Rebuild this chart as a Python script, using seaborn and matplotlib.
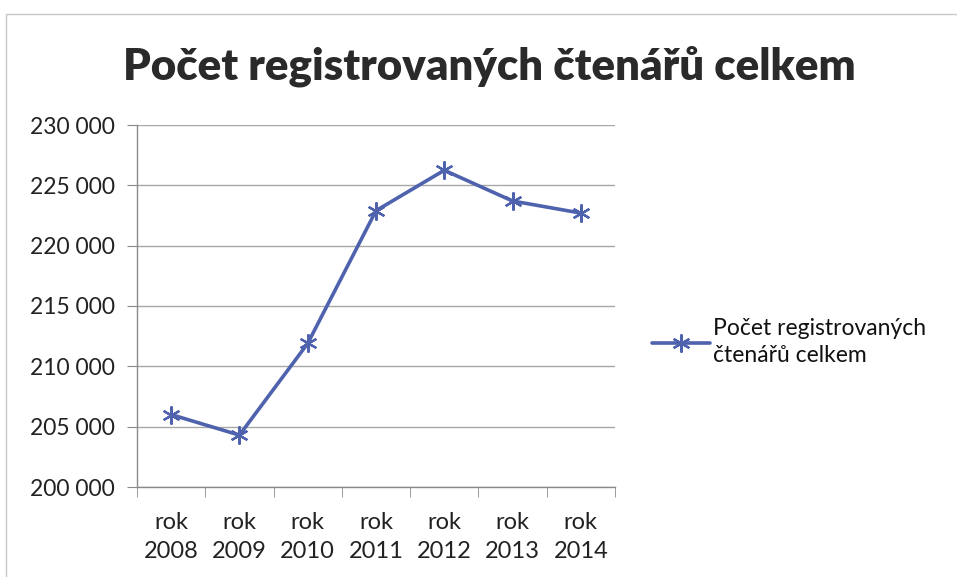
import pandas as pd
import matplotlib.pyplot as plt
import seaborn as sns
from matplotlib.ticker import FuncFormatter, FixedLocator
from matplotlib.patches import Rectangle

# Data
roky = ["rok\n2008", "rok\n2009", "rok\n2010", "rok\n2011", "rok\n2012", "rok\n2013", "rok\n2014"]
ctenari = [206000, 204300, 211900, 222900, 226250, 223700, 222700]
nazev = "Počet registrovaných čtenářů celkem"

df = pd.DataFrame({"rok": roky, "ctenari": ctenari})

sns.set_style("white")
plt.rcParams['font.family'] = ['Lato', 'DejaVu Sans']

fig = plt.figure(figsize=(9.57, 5.77), dpi=100)
ax = fig.add_axes([137 / 957, 1 - 487 / 577, (615 - 137) / 957, (487 - 125) / 577])

sns.lineplot(data=df, x="rok", y="ctenari", ax=ax, color="#4f62ad", linewidth=2.6,
             marker=(6, 2, 0), markersize=13, markeredgewidth=1.6,
             markeredgecolor="#4f62ad", sort=False, label=nazev.replace("ých ", "ých\n"))

ax.set_xlim(-0.5, 6.5)
ax.set_ylim(200000, 230000)
ax.set_yticks(range(200000, 230001, 5000))
ax.yaxis.set_major_formatter(FuncFormatter(lambda v, p: f"{v:,.0f}".replace(",", " ")))
ax.yaxis.grid(True, color="#a8a8a8", linewidth=1)
ax.set_axisbelow(True)

# ticks between categories like Excel
ax.set_xticks(range(len(roky)))
ax.set_xticklabels(roky, linespacing=1.45)
ax.xaxis.set_minor_locator(FixedLocator([i - 0.5 for i in range(len(roky) + 1)]))
ax.tick_params(axis="x", which="major", length=0, pad=18, labelsize=17, colors="#222222")
ax.tick_params(axis="x", which="minor", length=7, color="#8a8a8a", bottom=True)
ax.tick_params(axis="y", length=7, color="#8a8a8a", left=True, pad=9, labelsize=16.5, colors="#222222")

for s in ["top", "right"]:
    ax.spines[s].set_visible(False)
for s in ["left", "bottom"]:
    ax.spines[s].set_color("#8a8a8a")
    ax.spines[s].set_linewidth(1)

ax.set_xlabel("")
ax.set_ylabel("")

leg = ax.legend(loc="center left", bbox_to_anchor=(1.035, 0.40), frameon=False,
                fontsize=16.5, handlelength=2.5, handletextpad=0.15, labelspacing=0.2)
for t in leg.get_texts():
    t.set_color("#111111")
    t.set_linespacing(1.35)

fig.text(0.511, 1 - 66 / 577, nazev, ha="center", va="center", fontsize=31.5,
         fontweight="heavy", color="#2a2a2a")

# outer chart frame
fig.patches.append(Rectangle((6 / 957, -0.1), 1.2, 1.1 - 14 / 577, transform=fig.transFigure,
                             fill=False, edgecolor="#c8c8c8", linewidth=1))

fig.savefig("out.png", dpi=100)
